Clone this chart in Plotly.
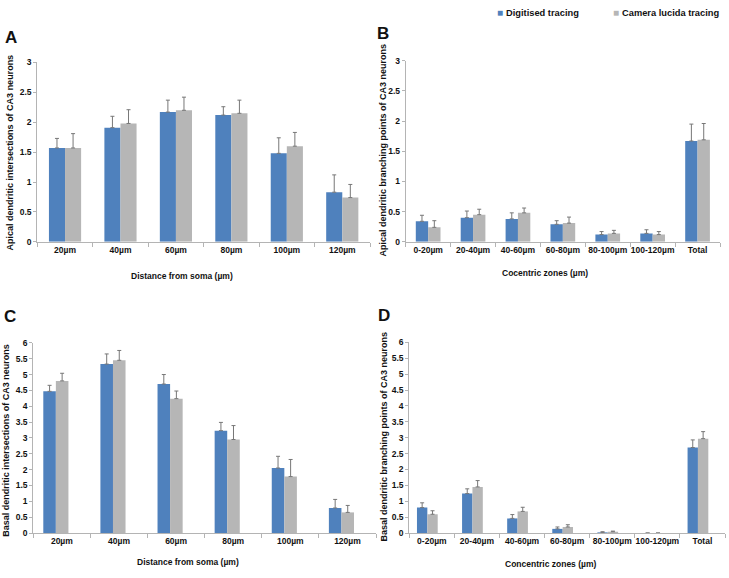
import plotly.graph_objects as go

# ---------------- data ----------------
dist_cats = ["20µm", "40µm", "60µm", "80µm", "100µm", "120µm"]
zone_cats = ["0-20µm", "20-40µm", "40-60µm", "60-80µm", "80-100µm", "100-120µm", "Total"]

# A: apical dendritic intersections
a_dig = [1.57, 1.91, 2.17, 2.12, 1.48, 0.83]
a_dig_err = [0.16, 0.19, 0.20, 0.14, 0.26, 0.29]
a_cam = [1.57, 1.98, 2.20, 2.15, 1.60, 0.74]
a_cam_err = [0.24, 0.23, 0.22, 0.22, 0.23, 0.22]

# B: apical branching points
b_dig = [0.34, 0.40, 0.38, 0.29, 0.12, 0.14, 1.67]
b_dig_err = [0.10, 0.11, 0.10, 0.06, 0.05, 0.06, 0.28]
b_cam = [0.24, 0.45, 0.48, 0.31, 0.14, 0.12, 1.69]
b_cam_err = [0.11, 0.09, 0.08, 0.10, 0.05, 0.05, 0.27]

# C: basal dendritic intersections
c_dig = [4.47, 5.33, 4.70, 3.23, 2.05, 0.79]
c_dig_err = [0.19, 0.32, 0.30, 0.26, 0.37, 0.27]
c_cam = [4.80, 5.45, 4.24, 2.95, 1.78, 0.65]
c_cam_err = [0.24, 0.31, 0.24, 0.44, 0.54, 0.22]

# D: basal branching points
d_dig = [0.80, 1.24, 0.46, 0.13, 0.02, 0.0, 2.69]
d_dig_err = [0.15, 0.15, 0.12, 0.06, 0.02, None, 0.24]
d_cam = [0.59, 1.45, 0.68, 0.19, 0.04, 0.0, 2.97]
d_cam_err = [0.11, 0.20, 0.13, 0.07, 0.02, None, 0.22]

BLUE = "#4F81BD"
GRAY = "#B6B6B6"
ERRC = "#777777"
AXC = "#B4B4B4"
FONT = "Liberation Sans, Arial, sans-serif"

W, H = 729, 578


def px(x):
    return x / W


def py(y):
    return 1 - y / H


fig = go.Figure()


def add_pair(cats, dig, dig_err, cam, cam_err, ax, width, shift):
    xa = "x" if ax == 1 else f"x{ax}"
    ya = "y" if ax == 1 else f"y{ax}"
    for vals, errs, col, off, name in [
        (dig, dig_err, BLUE, -width + shift, "Digitised tracing"),
        (cam, cam_err, GRAY, shift, "Camera lucida tracing"),
    ]:
        fig.add_trace(go.Bar(
            x=cats, y=vals, name=name, marker=dict(color=col, line=dict(width=0)),
            width=width, offset=off, xaxis=xa, yaxis=ya, showlegend=False,
            error_y=dict(type="data", symmetric=False, array=errs,
                         arrayminus=[0] * len(errs), color=ERRC,
                         thickness=1, width=2),
        ))


add_pair(dist_cats, a_dig, a_dig_err, a_cam, a_cam_err, 1, 0.29, 0.0)
add_pair(zone_cats, b_dig, b_dig_err, b_cam, b_cam_err, 2, 0.275, 0.0)
add_pair(dist_cats, c_dig, c_dig_err, c_cam, c_cam_err, 3, 0.22, -0.105)
add_pair(zone_cats, d_dig, d_dig_err, d_cam, d_cam_err, 4, 0.23, -0.10)

tickfont = dict(family=FONT, size=8.5, color="#111111", weight="bold")


def xax(dom, n):
    return dict(domain=dom, type="category", range=[-0.5, n - 0.5],
                showline=True, linecolor=AXC, linewidth=1,
                ticks="outside", tickson="boundaries", ticklen=4,
                tickcolor=AXC, tickfont=tickfont, showgrid=False,
                tickangle=0, zeroline=False, fixedrange=True)


def yax(dom, top, anchor):
    return dict(domain=dom, range=[0, top], dtick=0.5, showline=True,
                linecolor=AXC, linewidth=1, ticks="outside", ticklen=3,
                tickcolor=AXC, tickfont=tickfont, showgrid=False,
                zeroline=False, anchor=anchor, fixedrange=True)


fig.update_layout(
    width=W, height=H, autosize=False,
    margin=dict(l=0, r=0, t=0, b=0),
    paper_bgcolor="white", plot_bgcolor="white",
    barmode="overlay",
    xaxis=dict(xax([px(37.3), px(370)], 6), anchor="y"),
    yaxis=yax([py(241), py(58.5)], 3, "x"),
    xaxis2=dict(xax([px(405.7), px(720)], 7), anchor="y2"),
    yaxis2=yax([py(241), py(56.7)], 3, "x2"),
    xaxis3=dict(xax([px(33.3), px(376)], 6), anchor="y3"),
    yaxis3=yax([py(537.3), py(343.8)], 6, "x3"),
    xaxis4=dict(xax([px(409.3), px(725)], 7), anchor="y4"),
    yaxis4=yax([py(537.3), py(343.3)], 6, "x4"),
)

ann = []


def text(x, y, s, size, angle=0, xanchor="center", color="#111111"):
    ann.append(dict(x=px(x), y=py(y), xref="paper", yref="paper", text=s,
                    showarrow=False, xanchor=xanchor, yanchor="middle",
                    textangle=angle,
                    font=dict(family=FONT, size=size, color=color, weight="bold")))


# panel letters
text(11, 33, "A", 17)
text(382.5, 29, "B", 17)
text(10, 317, "C", 17)
text(384, 316, "D", 17)

# x titles
text(182, 276, "Distance from soma (µm)", 8.5)
text(545, 273, "Cocentric zones (µm)", 8.5)
text(188, 567, "Distance from soma (µm)", 8.5)
text(550, 569, "Concentric zones (µm)", 8.5)

# y titles
text(10, 150, "Apical dendritic intersections of CA3 neurons", 9, -90)
text(383, 148, "Apical dendritic branching points of CA3 neurons", 9, -90)
text(6.5, 443, "Basal dendritic intersections of CA3 neurons", 9, -90)
text(384, 439, "Basal dendritic branching points of CA3 neurons", 9, -90)

# legend
text(499.5, 8, "■", 10, 0, "center", BLUE)
text(504, 8, "Digitised tracing", 9.3, 0, "left")
text(615.5, 8, "■", 10, 0, "center", GRAY)
text(620, 8, "Camera lucida tracing", 9.3, 0, "left")

fig.update_layout(annotations=ann)

fig.write_html(
    "out.html",
    config={"displayModeBar": False, "staticPlot": True},
    post_script="document.body.style.margin='0';document.body.style.overflow='hidden';",
)
